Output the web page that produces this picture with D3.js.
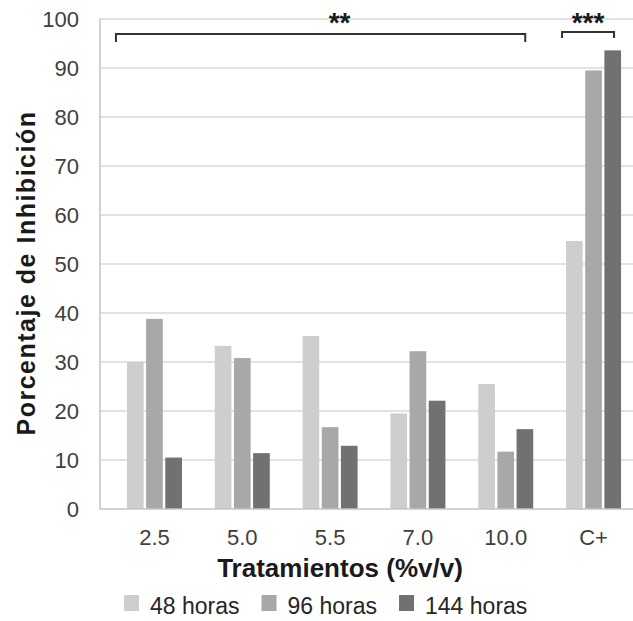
<!DOCTYPE html>
<html>
<head>
<meta charset="utf-8">
<script src="https://cdn.jsdelivr.net/npm/d3@7"></script>
<style>
  body { margin: 0; background: #fff; }
  svg { display: block; font-family: "Liberation Sans", Arial, sans-serif; }
</style>
</head>
<body>
<svg id="chart" width="633" height="621"></svg>
<script>
// --- data ---
const categories = ["2.5", "5.0", "5.5", "7.0", "10.0", "C+"];
const seriesNames = ["48 horas", "96 horas", "144 horas"];
const h48 = [30.0, 33.3, 35.3, 19.5, 25.5, 54.7];
const h96 = [38.8, 30.8, 16.7, 32.2, 11.7, 89.5];
const h144 = [10.5, 11.4, 12.9, 22.1, 16.3, 93.6];
const yTicks = [0, 10, 20, 30, 40, 50, 60, 70, 80, 90, 100];
const colors = ["#cecece", "#a8a8a8", "#737072"];

const seriesValues = [h48, h96, h144];
const rows = categories.map((c, i) => ({
  cat: c,
  vals: seriesNames.map((s, j) => ({ key: s, value: seriesValues[j][i] })),
}));

const svg = d3.select("#chart");
const plotLeft = 100, plotBottom = 509, plotTop = 19;

const x0 = d3.scaleBand().domain(categories).range([plotLeft, 648])
  .paddingInner(0).paddingOuter(0.12);
const groupW = 55;
const x1 = d3.scaleBand().domain(seriesNames).range([0, groupW]).paddingInner(0.13);
const y = d3.scaleLinear().domain([0, 100]).range([plotBottom, plotTop]);
const color = d3.scaleOrdinal().domain(seriesNames).range(colors);

// gridlines
svg.append("g")
  .selectAll("line")
  .data(yTicks.filter((d) => d > 0))
  .enter()
  .append("line")
  .attr("x1", plotLeft)
  .attr("x2", 633)
  .attr("y1", (d) => y(d))
  .attr("y2", (d) => y(d))
  .attr("stroke", "#d9d9d9")
  .attr("stroke-width", 1.5);

// bars
const groups = svg.append("g")
  .selectAll("g")
  .data(rows)
  .enter()
  .append("g")
  .attr("transform", (d) =>
    `translate(${x0(d.cat) + (x0.bandwidth() - groupW) / 2},0)`);

groups.selectAll("rect")
  .data((d) => d.vals)
  .enter()
  .append("rect")
  .attr("x", (d) => x1(d.key))
  .attr("width", x1.bandwidth())
  .attr("y", (d) => y(d.value))
  .attr("height", (d) => y(0) - y(d.value))
  .attr("fill", (d) => color(d.key));

// axis lines
svg.append("line")
  .attr("x1", plotLeft).attr("x2", plotLeft)
  .attr("y1", y(100)).attr("y2", y(0))
  .attr("stroke", "#c4c4c4").attr("stroke-width", 1.5);
svg.append("line")
  .attr("x1", plotLeft).attr("x2", 633)
  .attr("y1", y(0)).attr("y2", y(0))
  .attr("stroke", "#c4c4c4").attr("stroke-width", 1.5);

// y tick labels
svg.append("g")
  .selectAll("text")
  .data(yTicks)
  .enter()
  .append("text")
  .attr("x", 79)
  .attr("y", (d) => y(d))
  .attr("dy", "0.36em")
  .attr("text-anchor", "end")
  .attr("font-size", 22)
  .attr("fill", "#404040")
  .text((d) => d);

// x tick labels
svg.append("g")
  .selectAll("text")
  .data(categories)
  .enter()
  .append("text")
  .attr("x", (d) => x0(d) + x0.bandwidth() / 2)
  .attr("y", 545)
  .attr("text-anchor", "middle")
  .attr("font-size", 22)
  .attr("fill", "#404040")
  .text((d) => d);

// axis titles
svg.append("text")
  .attr("x", 340)
  .attr("y", 577)
  .attr("text-anchor", "middle")
  .attr("font-size", 26)
  .attr("font-weight", "bold")
  .attr("fill", "#1a1a1a")
  .text("Tratamientos (%v/v)");

svg.append("text")
  .attr("transform", "translate(35,273) rotate(-90)")
  .attr("text-anchor", "middle")
  .attr("font-size", 25)
  .attr("font-weight", "bold")
  .attr("letter-spacing", 1.5)
  .attr("fill", "#1a1a1a")
  .text("Porcentaje de Inhibición");

// significance brackets
const brackets = [
  { from: "2.5", to: "10.0", label: "**", yLine: 34, drop: 8, dl: -11, dr: -8, tx: 19 },
  { from: "C+", to: "C+", label: "***", yLine: 32, drop: 6, dl: -4, dr: -7, tx: 0 },
];
brackets.forEach((b) => {
  const xa = x0(b.from) + (x0.bandwidth() - groupW) / 2 + b.dl;
  const xb = x0(b.to) + (x0.bandwidth() + groupW) / 2 + b.dr;
  svg.append("path")
    .attr("d", `M${xa},${b.yLine + b.drop}V${b.yLine}H${xb}V${b.yLine + b.drop}`)
    .attr("fill", "none")
    .attr("stroke", "#333")
    .attr("stroke-width", 2);
  svg.append("text")
    .attr("x", (xa + xb) / 2 + b.tx)
    .attr("y", 32)
    .attr("text-anchor", "middle")
    .attr("font-size", 28)
    .attr("font-weight", "bold")
    .attr("fill", "#1a1a1a")
    .text(b.label);
});

// legend
const legend = svg.append("g").attr("transform", "translate(124,0)");
let lx = 0;
seriesNames.forEach((s) => {
  legend.append("rect")
    .attr("x", lx).attr("y", 595)
    .attr("width", 15).attr("height", 16)
    .attr("fill", color(s));
  const t = legend.append("text")
    .attr("x", lx + 26)
    .attr("y", 614)
    .attr("font-size", 23)
    .attr("fill", "#262626")
    .text(s);
  lx += 26 + t.node().getComputedTextLength() + 22;
});
</script>
</body>
</html>
